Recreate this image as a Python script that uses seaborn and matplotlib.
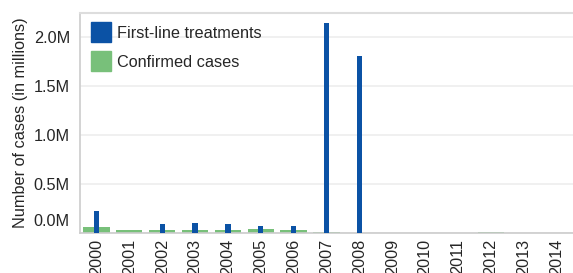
import pandas as pd
import matplotlib
matplotlib.use('Agg')
import matplotlib.pyplot as plt
from matplotlib.lines import Line2D
from matplotlib.ticker import FuncFormatter, MultipleLocator
import seaborn as sns

years = ['2000', '2001', '2002', '2003', '2004', '2005', '2006', '2007',
         '2008', '2009', '2010', '2011', '2012', '2013', '2014']
first_line = [224000, 0, 92000, 102000, 92000, 71000, 70000, 2143000,
              1806000, 0, 0, 0, 0, 0, 0]
confirmed = [61000, 34000, 34000, 34000, 34000, 44000, 31000, 13000,
             0, 0, 0, 0, 8000, 0, 0]

blue = '#0b52a5'
green = '#78c07a'
fs = 11.7

sns.set_style('white')
plt.rcParams['font.family'] = ['Liberation Sans', 'DejaVu Sans']
plt.rcParams['font.size'] = fs

df = pd.DataFrame({'year': years, 'first_line': first_line, 'confirmed': confirmed})

fig = plt.figure(figsize=(5.73, 2.73), dpi=100)
ax = fig.add_axes([80 / 573, 40 / 273, 493 / 573, 220 / 273])

sns.barplot(data=df, x='year', y='confirmed', order=years, color=green,
            width=0.8, saturation=1, linewidth=0, ax=ax, zorder=2)
sns.barplot(data=df, x='year', y='first_line', order=years, color=blue,
            width=0.16, saturation=1, linewidth=0, ax=ax, zorder=3)

ax.set_xlim(-0.5, 14.5)
ax.set_ylim(0, 2.245e6)
ax.yaxis.set_major_locator(MultipleLocator(500000))
# the 0.0M label is drawn separately, a little above its tick
ax.yaxis.set_major_formatter(FuncFormatter(lambda v, p: '' if v == 0 else f'{v / 1e6:.1f}M'))
ax.annotate('0.0M', xy=(0, 0), xycoords=('axes fraction', 'data'),
            xytext=(-7.2, 8), textcoords='offset points',
            ha='right', va='center', fontsize=fs)
ax.grid(axis='y', color='#eeeeee', linewidth=1.2, zorder=0)
ax.set_axisbelow(True)

ax.set_xlabel('')
ax.set_ylabel('Number of cases (in millions)', fontsize=fs)
ax.yaxis.set_label_coords(-52 / 493, 0.5)

ax.set_xticks(range(len(years)))
ax.set_xticklabels(years, rotation=90, fontsize=fs)
ax.set_xticks([i - 0.5 for i in range(len(years) + 1)], minor=True)
ax.tick_params(axis='x', which='major', length=0, pad=4.3)
ax.tick_params(axis='x', which='minor', length=4.5, width=1.2, color='#cccccc')
ax.tick_params(axis='y', length=5, width=1.2, color='#cccccc', pad=2.2, labelsize=fs)

for s in ['left', 'bottom']:
    ax.spines[s].set_color('#cccccc')
    ax.spines[s].set_linewidth(1.2)
ax.spines['top'].set_color('#dddddd')
ax.spines['top'].set_linewidth(1.5)
ax.spines['right'].set_visible(False)

handles = [Line2D([], [], marker='s', linestyle='', markersize=15, color=blue),
           Line2D([], [], marker='s', linestyle='', markersize=15, color=green)]
ax.legend(handles, ['First-line treatments', 'Confirmed cases'], loc='upper left',
          frameon=False, fontsize=fs, handlelength=1.0, handletextpad=0.5,
          labelspacing=0.85, borderaxespad=0.4, borderpad=0.4)

fig.savefig('out.png', dpi=100)
